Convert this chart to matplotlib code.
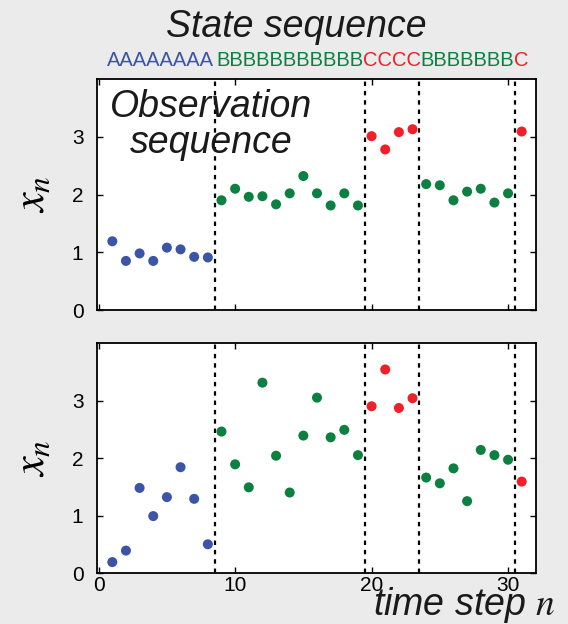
import matplotlib
matplotlib.use('Agg')
import matplotlib.pyplot as plt
from matplotlib.transforms import blended_transform_factory
from itertools import groupby

# ---------------- data ----------------
states = "AAAAAAAABBBBBBBBBBBCCCCBBBBBBBC"
steps = list(range(1, 32))
obs_top = [1.19, 0.85, 0.98, 0.85, 1.08, 1.05, 0.92, 0.91,
           1.90, 2.10, 1.96, 1.97, 1.83, 2.02, 2.32, 2.02, 1.81, 2.02, 1.81,
           3.01, 2.78, 3.08, 3.13,
           2.18, 2.16, 1.90, 2.05, 2.10, 1.86, 2.02,
           3.09]
obs_bottom = [0.19, 0.39, 1.48, 0.99, 1.32, 1.84, 1.29, 0.50,
              2.46, 1.89, 1.49, 3.31, 2.04, 1.40, 2.39, 3.05, 2.36, 2.49, 2.05,
              2.90, 3.54, 2.87, 3.04,
              1.66, 1.56, 1.82, 1.25, 2.14, 2.05, 1.97,
              1.59]
boundaries = [8.5, 19.5, 23.5, 30.5]
xticks = [0, 10, 20, 30]
yticks = [0, 1, 2, 3]
state_colors = {'A': '#3b54a5', 'B': '#0c8040', 'C': '#ee2028'}

# ---------------- style ----------------
plt.rcParams['font.family'] = ['Liberation Sans', 'DejaVu Sans']
plt.rcParams['mathtext.fontset'] = 'stix'
bg = '#ebebeb'
txt = '#1a1a1a'

fig = plt.figure(figsize=(5.68, 6.24), dpi=100, facecolor=bg)
ax1 = fig.add_axes([0.1713, 0.5032, 0.7724, 0.3702])
ax2 = fig.add_axes([0.1713, 0.0817, 0.7724, 0.3686])

for ax, obs in ((ax1, obs_top), (ax2, obs_bottom)):
    ax.set_facecolor('white')
    for b in boundaries:
        ax.axvline(b, color='black', lw=1.6, linestyle=(0, (2, 2.2)), zorder=1)
    cols = [state_colors[s] for s in states]
    ax.scatter(steps, obs, s=52, c=cols, edgecolors='none', zorder=3)
    ax.set_xlim(-0.1, 32.05)
    ax.set_ylim(0, 4)
    ax.set_xticks(xticks)
    ax.set_yticks(yticks)
    ax.tick_params(direction='in', length=4, width=1, top=True, right=True,
                   labelsize=15, colors='black')
    ax.tick_params(axis='y', pad=10)
    ax.tick_params(axis='x', pad=2)
    for sp in ax.spines.values():
        sp.set_linewidth(1.3)
        sp.set_color('black')
    ax.set_ylabel(r'$x_n$', fontsize=32, rotation=90)
    ax.yaxis.set_label_coords(-0.10, 0.5)

ax1.tick_params(labelbottom=False)

# Observation sequence text
ax1.text(0.259, 0.835, 'Observation', transform=ax1.transAxes, ha='center',
         va='baseline', fontsize=27, style='italic', color=txt)
ax1.text(0.259, 0.680, 'sequence', transform=ax1.transAxes, ha='center',
         va='baseline', fontsize=27, style='italic', color=txt)

# State sequence title and letters (one text per run of identical states)
fig.text(0.521, 0.9407, 'State sequence', ha='center', va='baseline',
         fontsize=27, style='italic', color=txt)
trans = blended_transform_factory(ax1.transData, fig.transFigure)
pos = 0
for s, grp in groupby(states):
    run = ''.join(grp)
    run_steps = steps[pos:pos + len(run)]
    pos += len(run)
    centre = (run_steps[0] + run_steps[-1]) / 2
    fig.text(centre, 0.8942, run, transform=trans, ha='center', va='baseline',
             fontsize=14.5, color=state_colors[s])

# x label
fig.text(0.977, 0.0144, r'time step $n$', ha='right', va='baseline',
         fontsize=27, style='italic', color=txt)

fig.savefig('out.png', dpi=100, facecolor=bg)
